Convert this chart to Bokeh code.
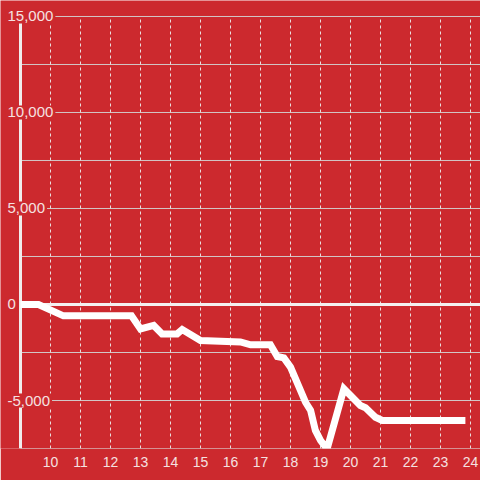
from bokeh.plotting import figure
from bokeh.models import Range1d, FixedTicker, ColumnDataSource
from bokeh.core.properties import value
from bokeh.embed import file_html
from bokeh.resources import INLINE

# ---- data ----
hours = [9.0, 9.6, 10.43, 12.7, 13.0, 13.44, 13.72, 14.22, 14.39, 15.0, 16.33, 16.67,
         17.33, 17.56, 17.78, 18.0, 18.5, 18.67, 18.83, 19.0, 19.22, 19.78, 20.33,
         20.5, 20.83, 21.06, 23.83]
values = [0, 0, -590, -590, -1270, -1090, -1530, -1530, -1300, -1880, -1950, -2100,
          -2100, -2710, -2780, -3260, -5090, -5520, -6560, -7080, -7520, -4390, -5260,
          -5380, -5870, -6040, -6040]
x_ticks = [10, 11, 12, 13, 14, 15, 16, 17, 18, 19, 20, 21, 22, 23, 24]
y_grid = [-7500, -5000, -2500, 0, 2500, 5000, 7500, 10000, 12500, 15000]
y_label_vals = [15000, 10000, 5000, 0, -5000]
y_label_text = ["15,000", "10,000", "5,000", "0", "-5,000"]
x_start, x_end = 8.3333, 24.3333
y_start, y_end = -7500, 15833.33
axis_x = 9.0
label_x = 8.5
y_min, y_max = -7500, 15000

RED = "#cc292e"
TXT = "#f5e1e1"
GRID = "#d2c6c6"
FONT = "Liberation Sans"

p = figure(width=480, height=480, x_range=Range1d(x_start, x_end),
           y_range=Range1d(y_start, y_end), output_backend="svg",
           toolbar_location=None, y_axis_location=None,
           min_border=0, min_border_bottom=32,
           background_fill_color=RED, border_fill_color=RED, outline_line_color=None)
p.grid.visible = False

xa = p.xaxis[0]
xa.ticker = FixedTicker(ticks=x_ticks)
xa.axis_line_color = None
xa.major_tick_line_color = None
xa.minor_tick_line_color = None
xa.major_label_text_color = TXT
xa.major_label_text_font = FONT
xa.major_label_text_font_size = "14px"
xa.major_label_standoff = 2

# horizontal gridlines
p.segment(x0=[axis_x] * len(y_grid), x1=[x_end] * len(y_grid), y0=y_grid, y1=y_grid,
          line_color=GRID, line_width=1)
# vertical dashed gridlines
p.segment(x0=x_ticks, x1=x_ticks, y0=[y_min] * len(x_ticks), y1=[y_max] * len(x_ticks),
          line_color="#eadede", line_width=1, line_dash="3 3")
# zero line
p.segment(x0=[axis_x], x1=[x_end], y0=[0], y1=[0], line_color="#f4f0f0", line_width=3)
# left axis line
p.segment(x0=[axis_x], x1=[axis_x], y0=[y_min], y1=[y_max], line_color="#f0eded", line_width=3)

# data line
p.line(x=hours, y=values, line_color="white", line_width=7, line_join="miter")

# y tick labels
src = ColumnDataSource(dict(x=[label_x] * len(y_label_vals), y=y_label_vals, t=y_label_text))
p.text(x="x", y="y", text="t", source=src, text_align="left", text_baseline="middle",
       text_font=value(FONT), text_font_size="15px", text_color=TXT,
       background_fill_color=RED, padding=2)

open("out.html", "w").write(file_html(p, INLINE))
